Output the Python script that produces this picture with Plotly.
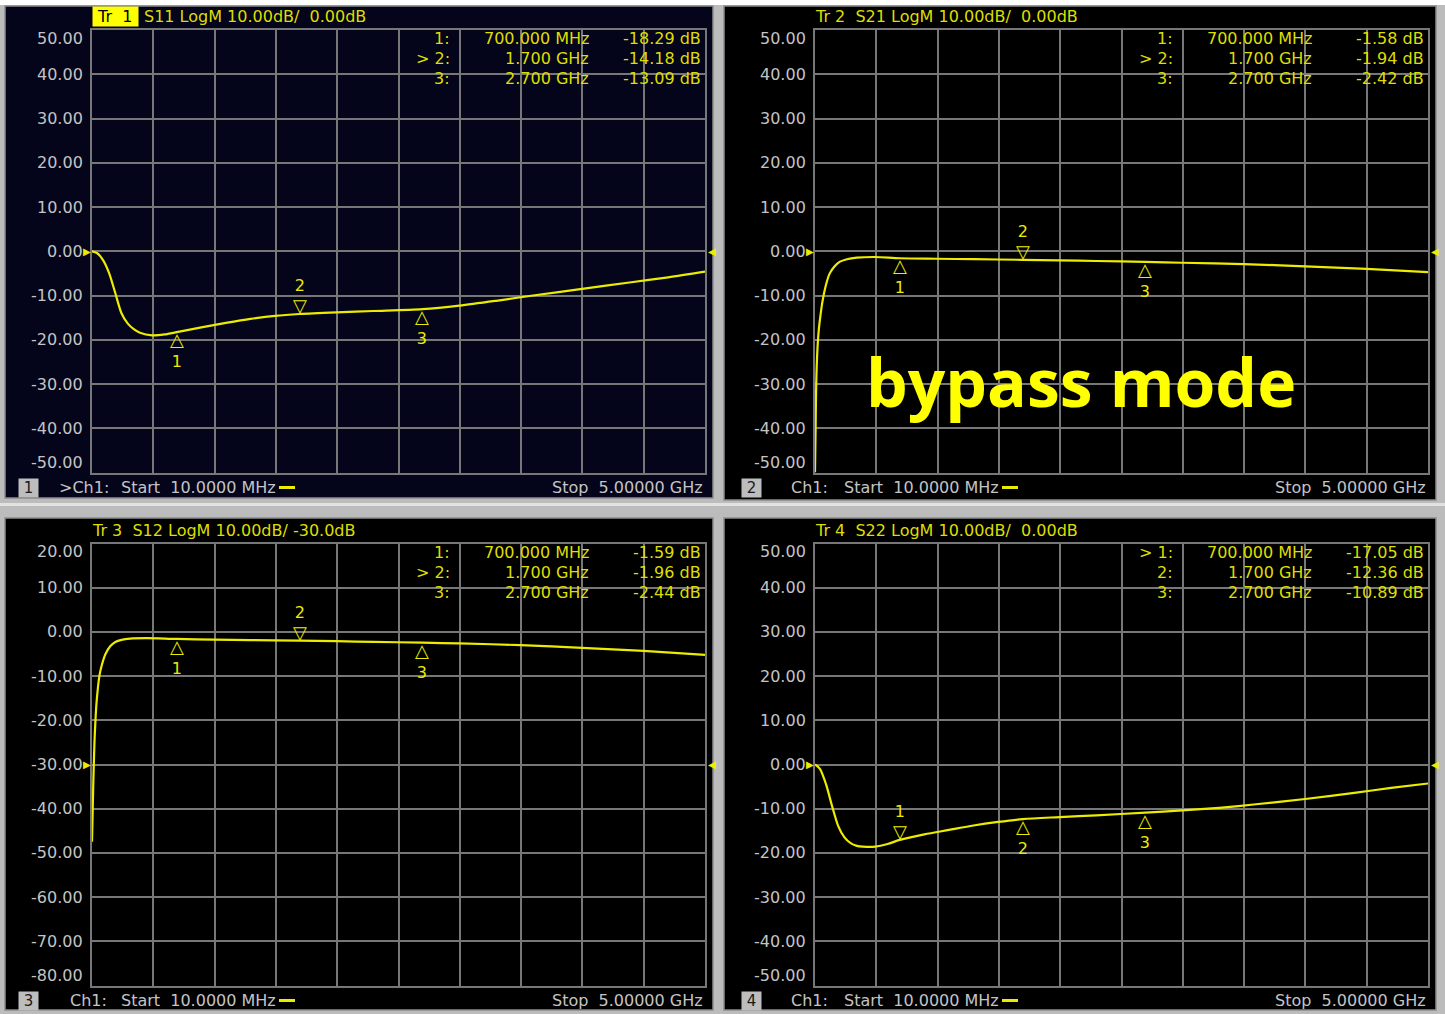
import plotly.graph_objects as go

W, H = 1445, 1014

# ---------------- data (frequency in GHz, magnitude in dB) ----------------
freq_s11 = [0.01, 0.05, 0.10, 0.15, 0.20, 0.25, 0.30, 0.35, 0.40, 0.50, 0.60, 0.70,
            0.90, 1.10, 1.30, 1.50, 1.70, 2.00, 2.30, 2.70, 3.00, 3.30, 3.60, 4.00,
            4.40, 4.70, 5.00]
s11 = [0.0, -0.4, -2.0, -5.0, -9.5, -14.0, -16.3, -17.6, -18.4, -19.0, -18.8, -18.29,
       -17.2, -16.2, -15.3, -14.6, -14.18, -13.8, -13.5, -13.09, -12.3, -11.2, -10.0,
       -8.5, -7.0, -5.9, -4.6]

freq_s21 = [0.01, 0.015, 0.02, 0.03, 0.04, 0.05, 0.07, 0.10, 0.13, 0.17, 0.21, 0.27,
            0.35, 0.50, 0.70, 1.00, 1.30, 1.70, 2.00, 2.30, 2.70, 3.00, 3.50, 4.00,
            4.50, 5.00]
s21 = [-50.0, -40.0, -30.0, -22.0, -18.0, -15.5, -11.5, -7.5, -5.0, -3.4, -2.4, -1.8,
       -1.45, -1.3, -1.58, -1.7, -1.8, -1.94, -2.05, -2.2, -2.42, -2.6, -2.9, -3.4,
       -4.0, -4.7]

freq_s12 = [0.01, 0.02, 0.03, 0.04, 0.05, 0.07, 0.09, 0.12, 0.16, 0.20, 0.25, 0.32,
            0.45, 0.70, 1.00, 1.30, 1.70, 2.00, 2.30, 2.70, 3.00, 3.50, 4.00, 4.50, 5.00]
s12 = [-47.5, -35.0, -25.0, -19.0, -15.0, -10.0, -7.5, -5.0, -3.2, -2.3, -1.8, -1.5,
       -1.4, -1.59, -1.75, -1.85, -1.96, -2.1, -2.25, -2.44, -2.6, -3.0, -3.6, -4.3, -5.2]

freq_s22 = [0.01, 0.05, 0.10, 0.15, 0.20, 0.25, 0.30, 0.35, 0.40, 0.50, 0.60, 0.70,
            0.90, 1.10, 1.30, 1.50, 1.70, 2.00, 2.30, 2.70, 3.00, 3.30, 3.60, 4.00,
            4.40, 4.70, 5.00]
s22 = [0.0, -1.0, -4.5, -9.5, -14.0, -16.5, -17.8, -18.4, -18.6, -18.6, -18.0, -17.05,
       -15.8, -14.8, -13.8, -13.0, -12.36, -11.9, -11.5, -10.89, -10.4, -9.8, -9.0,
       -7.8, -6.4, -5.3, -4.3]

marker_freqs = [0.7, 1.7, 2.7]
marker_freq_labels = ["700.000 MHz", "1.700 GHz", "2.700 GHz"]
s11_markers = [-18.29, -14.18, -13.09]
s21_markers = [-1.58, -1.94, -2.42]
s12_markers = [-1.59, -1.96, -2.44]
s22_markers = [-17.05, -12.36, -10.89]

yticks_main = [50, 40, 30, 20, 10, 0, -10, -20, -30, -40, -50]
yticks_s12 = [20, 10, 0, -10, -20, -30, -40, -50, -60, -70, -80]

f_start, f_stop = 0.01, 5.0

# ---------------- styles ----------------
NB = "\u00a0"
TRACE = "#ecec00"
MTEXT = "#dede00"
LABEL = "#c4c4c4"
GRID = "#777777"
FONT = "DejaVu Sans"

panels = [
    dict(n=1, L=92, R=705, T=30, B=472.5, fx=freq_s11, fy=s11, mk=s11_markers,
         yt=yticks_main, rng=[-50, 50], ref=0, active=2, bg="#04041a",
         box=(5, 6, 713, 498), tr="Tr 1", hdr="S11 LogM 10.00dB/" + NB * 2 + "0.00dB",
         ch=">Ch1:", chx=57, num_x=29),
    dict(n=2, L=815, R=1428, T=30, B=472.5, fx=freq_s21, fy=s21, mk=s21_markers,
         yt=yticks_main, rng=[-50, 50], ref=0, active=2, bg="#000000",
         box=(724, 6, 1436, 500), tr=None, hdr="Tr 2" + NB * 2 + "S21 LogM 10.00dB/" + NB * 2 + "0.00dB",
         ch="Ch1:", chx=789, num_x=751),
    dict(n=3, L=92, R=705, T=543.5, B=985.5, fx=freq_s12, fy=s12, mk=s12_markers,
         yt=yticks_s12, rng=[-80, 20], ref=-30, active=2, bg="#000000",
         box=(5, 518, 713, 1010), tr=None, hdr="Tr 3" + NB * 2 + "S12 LogM 10.00dB/ -30.0dB",
         ch="Ch1:", chx=68, num_x=29),
    dict(n=4, L=815, R=1428, T=543.5, B=985.5, fx=freq_s22, fy=s22, mk=s22_markers,
         yt=yticks_main, rng=[-50, 50], ref=0, active=1, bg="#000000",
         box=(724, 518, 1436, 1010), tr=None, hdr="Tr 4" + NB * 2 + "S22 LogM 10.00dB/" + NB * 2 + "0.00dB",
         ch="Ch1:", chx=789, num_x=751),
]


def xp(px):
    return px / W


def yp(py):
    return 1 - py / H


fig = go.Figure()
shapes = []
annotations = []

# page decorations
shapes.append(dict(type="rect", xref="paper", yref="paper", x0=0, x1=1, y0=yp(5), y1=1,
                   fillcolor="#ffffff", line=dict(width=0), layer="below"))
shapes.append(dict(type="rect", xref="paper", yref="paper", x0=0, x1=1, y0=yp(506), y1=yp(503),
                   fillcolor="#e2e2e2", line=dict(width=0), layer="below"))

for p in panels:
    n = p["n"]
    xa = "x" if n == 1 else f"x{n}"
    ya = "y" if n == 1 else f"y{n}"
    x0, y0, x1, y1 = p["box"]
    shapes.append(dict(type="rect", xref="paper", yref="paper", x0=xp(x0), x1=xp(x1),
                       y0=yp(y1), y1=yp(y0), fillcolor=p["bg"],
                       line=dict(color="#8c8c8c", width=1.5), layer="below"))

    axis_common = dict(showgrid=True, gridcolor=GRID, gridwidth=1.5, showline=True,
                       linecolor=GRID, linewidth=1.5, mirror=True, zeroline=False,
                       showticklabels=False, ticks="", fixedrange=True)
    fig.update_layout(**{
        ("xaxis" if n == 1 else f"xaxis{n}"): dict(
            domain=[xp(p["L"]), xp(p["R"])], range=[f_start, f_stop], tick0=f_start,
            dtick=(f_stop - f_start) / 10, anchor=ya, **axis_common),
        ("yaxis" if n == 1 else f"yaxis{n}"): dict(
            domain=[yp(p["B"]), yp(p["T"])], range=p["rng"], tick0=0, dtick=10,
            anchor=xa, **axis_common),
    })

    fig.add_trace(go.Scatter(x=p["fx"], y=p["fy"], mode="lines", xaxis=xa, yaxis=ya,
                             line=dict(color=TRACE, width=2.2, shape="spline", smoothing=0.8),
                             hoverinfo="skip"))

    # y tick labels
    for i, v in enumerate(p["yt"]):
        ys = 0
        if i == 0:
            ys = -8
        elif i == len(p["yt"]) - 1:
            ys = 10
        annotations.append(dict(xref="paper", yref=ya, x=xp(p["L"] - 7), y=v, yshift=ys,
                                text=f"{v:.2f}", showarrow=False, xanchor="right",
                                yanchor="middle", font=dict(family=FONT, size=16, color=LABEL)))

    # reference level arrows
    annotations.append(dict(xref="paper", yref=ya, x=xp(p["L"] + 1), y=p["ref"], text="▶",
                            showarrow=False, xanchor="right", yanchor="middle",
                            font=dict(family=FONT, size=10, color=TRACE)))
    annotations.append(dict(xref="paper", yref=ya, x=xp(p["R"] + 1), y=p["ref"], text="◀",
                            showarrow=False, xanchor="left", yanchor="middle",
                            font=dict(family=FONT, size=10, color=TRACE)))

    # header
    hy = yp(p["T"] - 13)
    if p["tr"]:
        annotations.append(dict(xref="paper", yref="paper", x=xp(p["L"]), y=hy,
                                text=NB + p["tr"].replace(" ", NB * 2) + NB, showarrow=False,
                                xanchor="left", yanchor="middle", bgcolor="#ffff00", borderpad=0,
                                font=dict(family=FONT, size=16, color="#000000")))
        annotations.append(dict(xref="paper", yref="paper", x=xp(p["L"] + 50), y=hy,
                                text=p["hdr"], showarrow=False, xanchor="left", yanchor="middle",
                                font=dict(family=FONT, size=16, color=MTEXT)))
    else:
        annotations.append(dict(xref="paper", yref="paper", x=xp(p["L"] - 2), y=hy,
                                text=p["hdr"], showarrow=False, xanchor="left", yanchor="middle",
                                font=dict(family=FONT, size=16, color=MTEXT)))

    # marker table
    for k in range(3):
        ry = yp(p["T"] + 9 + 20 * k)
        lab = (">" + NB + f"{k + 1}:") if (k + 1) == p["active"] else f"{k + 1}:"
        for txt, cx in ((lab, p["L"] + 360), (marker_freq_labels[k], p["L"] + 499),
                        (f"{p['mk'][k]:.2f} dB", p["L"] + 611)):
            annotations.append(dict(xref="paper", yref="paper", x=xp(cx), y=ry, text=txt,
                                    showarrow=False, xanchor="right", yanchor="middle",
                                    font=dict(family=FONT, size=16, color=MTEXT)))

    # markers on trace (triangle + number in one label)
    for k in range(3):
        fx, fv = marker_freqs[k], p["mk"][k]
        if (k + 1) == p["active"]:
            annotations.append(dict(xref=xa, yref=ya, x=fx, y=fv,
                                    text=f"{k + 1}<br><span style='font-size:18px'>▽</span>",
                                    showarrow=False, xanchor="center", yanchor="bottom",
                                    yshift=-4, font=dict(family=FONT, size=16, color=TRACE)))
        else:
            annotations.append(dict(xref=xa, yref=ya, x=fx, y=fv,
                                    text=f"<span style='font-size:18px'>△</span><br>{k + 1}",
                                    showarrow=False, xanchor="center", yanchor="top",
                                    yshift=5, font=dict(family=FONT, size=16, color=TRACE)))

    # footer
    fy = yp(p["B"] + 15)
    annotations.append(dict(xref="paper", yref="paper", x=xp(p["num_x"]), y=fy,
                            text=NB + str(n) + NB, showarrow=False, xanchor="center",
                            yanchor="middle", bgcolor="#bdbdbd", borderpad=0,
                            font=dict(family=FONT, size=15, color="#1a1a1a")))
    annotations.append(dict(xref="paper", yref="paper", x=xp(p["chx"]), y=fy, text=p["ch"],
                            showarrow=False, xanchor="left", yanchor="middle",
                            font=dict(family=FONT, size=16, color=LABEL)))
    annotations.append(dict(xref="paper", yref="paper", x=xp(p["L"] + 27), y=fy,
                            text="Start" + NB * 2 + "10.0000 MHz", showarrow=False,
                            xanchor="left", yanchor="middle",
                            font=dict(family=FONT, size=16, color=LABEL)))
    shapes.append(dict(type="line", xref="paper", yref="paper", x0=xp(p["L"] + 187),
                       x1=xp(p["L"] + 203), y0=yp(p["B"] + 15), y1=yp(p["B"] + 15),
                       line=dict(color=TRACE, width=3)))
    annotations.append(dict(xref="paper", yref="paper", x=xp(p["R"]), y=fy,
                            text="Stop" + NB * 2 + "5.00000 GHz", showarrow=False,
                            xanchor="right", yanchor="middle",
                            font=dict(family=FONT, size=16, color=LABEL)))

annotations.append(dict(xref="paper", yref="paper", x=xp(1081), y=yp(381),
                        text="<b>bypass mode</b>", showarrow=False, xanchor="center",
                        yanchor="middle", font=dict(family="Open Sans", size=66, color="#ffff00")))

fig.update_layout(width=W, height=H, margin=dict(l=0, r=0, t=0, b=0),
                  paper_bgcolor="#bcbcbc", plot_bgcolor="rgba(0,0,0,0)", showlegend=False,
                  shapes=shapes, annotations=annotations)

fig.write_html("out.html", config={"displayModeBar": False},
               post_script="document.body.style.margin='0';document.body.style.overflow='hidden';")
